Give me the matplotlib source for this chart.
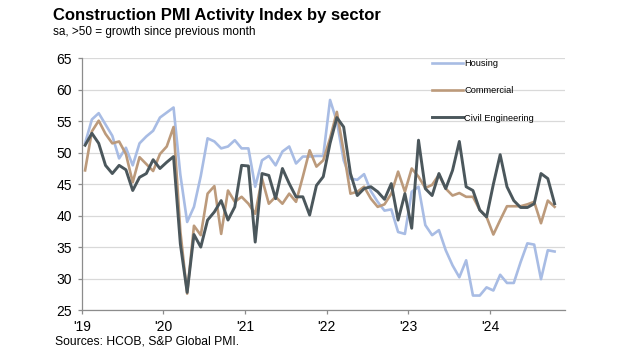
import numpy as np
import matplotlib
matplotlib.use("Agg")
import matplotlib.pyplot as plt

plt.rcParams['font.family'] = ['Liberation Sans', 'DejaVu Sans']

# Monthly readings, Jan 2019 - Oct 2024
housing = [51.5, 55.3, 56.3, 54.5, 52.7, 49.1, 50.8, 48.0, 51.5, 52.6, 53.5, 55.6,
           56.4, 57.2, 46.5, 39.0, 41.4, 46.3, 52.3, 51.8, 50.7, 51.0, 52.0, 50.7,
           50.7, 44.6, 48.8, 49.5, 48.0, 50.2, 51.0, 48.3, 49.4, 49.4, 49.5, 49.5,
           58.4, 55.0, 48.8, 45.9, 45.7, 46.6, 43.9, 42.2, 40.8, 41.0, 37.4, 37.1,
           43.8, 44.6, 38.5, 36.9, 37.7, 34.5, 32.1, 30.2, 32.9, 27.3, 27.3, 28.6,
           28.1, 30.6, 29.3, 29.3, 32.6, 35.6, 35.4, 29.9, 34.5, 34.3]
commercial = [47.2, 53.4, 55.1, 53.0, 51.5, 51.8, 49.8, 45.3, 49.3, 48.2, 47.1, 49.8,
              51.0, 54.1, 37.5, 27.6, 38.4, 36.9, 43.5, 44.7, 37.1, 44.0, 42.2, 43.0,
              41.9, 40.3, 45.9, 41.9, 43.0, 41.9, 43.5, 42.2, 46.2, 50.4, 47.8, 48.8,
              52.3, 56.5, 50.2, 43.5, 43.8, 44.6, 42.7, 41.4, 41.8, 43.5, 47.0, 43.8,
              47.5, 46.2, 44.4, 44.9, 46.5, 44.3, 43.2, 43.6, 43.0, 43.0, 40.9, 39.8,
              37.0, 39.3, 41.5, 41.5, 41.5, 41.8, 42.2, 38.8, 42.4, 41.4]
civil_eng = [51.2, 53.1, 51.5, 48.0, 46.7, 48.0, 47.3, 44.0, 46.1, 46.7, 48.9, 47.5,
             48.5, 49.4, 35.5, 27.8, 37.0, 35.0, 39.3, 40.6, 42.4, 39.3, 41.4, 48.0,
             47.9, 35.8, 46.7, 46.4, 42.7, 47.5, 45.1, 43.0, 43.0, 40.1, 44.8, 46.2,
             51.5, 55.6, 54.1, 46.7, 43.2, 44.3, 44.6, 43.8, 42.6, 45.1, 39.3, 43.5,
             38.0, 52.0, 44.3, 43.2, 46.7, 44.3, 47.2, 51.8, 44.6, 44.0, 40.9, 39.8,
             45.0, 49.7, 44.6, 42.4, 41.3, 41.3, 41.9, 46.7, 45.9, 41.9]
year_labels = ["'19", "'20", "'21", "'22", "'23", "'24"]

months = np.arange(len(housing)) + 0.5

fig = plt.figure(figsize=(6.25, 3.63), dpi=100)
ax = fig.add_axes([0.1307, 0.146, 0.773, 0.693])

ax.plot(months, housing, color='#a8bce4', lw=1.9, label='Housing')
ax.plot(months, commercial, color='#bc9a7b', lw=1.9, label='Commercial')
ax.plot(months, civil_eng, color='#4b575c', lw=2.1, label='Civil Engineering')

ax.set_ylim(25, 65)
ax.set_yticks(np.arange(25, 66, 5))
ax.set_xlim(0, 71)
ax.set_xticks(np.arange(0, 72, 12))
ax.set_xticklabels(year_labels)

ax.grid(axis='y', color='#d9d9d9', lw=0.9)
ax.set_axisbelow(True)
for s in ['top', 'right']:
    ax.spines[s].set_visible(False)
for s in ['left', 'bottom']:
    ax.spines[s].set_color('#8c8c8c')
    ax.spines[s].set_linewidth(0.9)
ax.tick_params(axis='both', colors='#8c8c8c', length=3, width=0.9, labelsize=10,
               labelcolor='black', pad=4)

ax.legend(loc='upper left', bbox_to_anchor=(0.707, 1.03), frameon=False,
          fontsize=6.7, handlelength=3.4, handletextpad=0.1, labelspacing=1.95)

fig.text(0.085, 0.978, 'Construction PMI Activity Index by sector',
         fontsize=12, fontweight='bold', va='top')
fig.text(0.085, 0.928, 'sa, >50 = growth since previous month', fontsize=8.5, va='top')
fig.text(0.088, 0.077, 'Sources: HCOB, S&P Global PMI.', fontsize=8.7, va='top')

fig.savefig('out.png', dpi=100)
